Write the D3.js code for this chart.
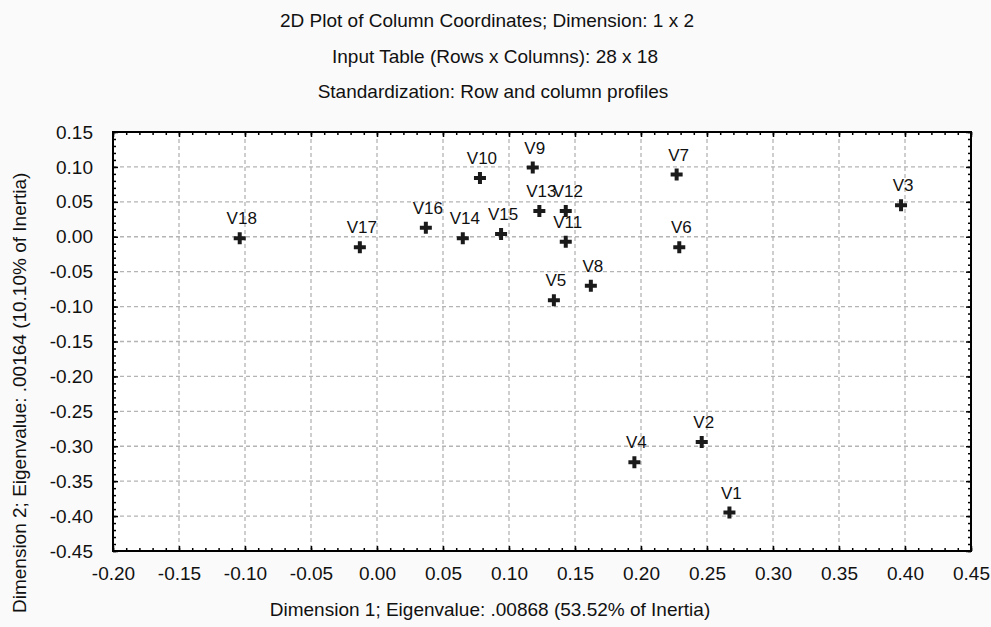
<!DOCTYPE html>
<html>
<head>
<meta charset="utf-8">
<script src="https://cdnjs.cloudflare.com/ajax/libs/d3/7.8.5/d3.min.js"></script>
<style>
  body { margin: 0; background: #fafafa; }
  svg { display: block; font-family: "Liberation Sans", Arial, sans-serif; }
</style>
</head>
<body>
<div id="chart"></div>
<script>
// column points (V1..V18)
var names = ["V1","V2","V3","V4","V5","V6","V7","V8","V9","V10","V11","V12","V13","V14","V15","V16","V17","V18"];
var dim1 = [0.267, 0.246, 0.397, 0.195, 0.134, 0.229, 0.227, 0.162, 0.118, 0.078, 0.143, 0.143, 0.123, 0.065, 0.094, 0.037, -0.013, -0.104];
var dim2 = [-0.395, -0.294, 0.045, -0.323, -0.091, -0.015, 0.089, -0.070, 0.099, 0.084, -0.007, 0.037, 0.037, -0.002, 0.004, 0.013, -0.015, -0.002];

var xTicks = [-0.20,-0.15,-0.10,-0.05,0.00,0.05,0.10,0.15,0.20,0.25,0.30,0.35,0.40,0.45];
var yTicks = [-0.45,-0.40,-0.35,-0.30,-0.25,-0.20,-0.15,-0.10,-0.05,0.00,0.05,0.10,0.15];

var titles = ["2D Plot of Column Coordinates; Dimension: 1 x 2",
              "Input Table (Rows x Columns): 28 x 18",
              "Standardization: Row and column profiles"];
var xTitle = "Dimension 1; Eigenvalue: .00868 (53.52% of Inertia)";
var yTitle = "Dimension 2; Eigenvalue: .00164 (10.10% of Inertia)";

var W = 991, H = 627,
    margin = {top: 132, right: 20, bottom: 76, left: 113},
    width = W - margin.left - margin.right,
    height = H - margin.top - margin.bottom;

var svg = d3.select("#chart").append("svg")
    .attr("width", W)
    .attr("height", H);

// titles
var titleX = [487, 495, 493], titleY = [27, 63, 98];
svg.selectAll(".title")
    .data(titles)
    .enter().append("text")
    .attr("class", "title")
    .attr("x", function(d, i) { return titleX[i]; })
    .attr("y", function(d, i) { return titleY[i]; })
    .attr("text-anchor", "middle")
    .style("font-size", "19px")
    .style("fill", "#111")
    .text(function(d) { return d; });

var g = svg.append("g")
    .attr("transform", "translate(" + margin.left + "," + margin.top + ")");

var x = d3.scaleLinear().domain([-0.20, 0.45]).range([0, width]);
var y = d3.scaleLinear().domain([-0.45, 0.15]).range([height, 0]);

g.append("rect")
    .attr("width", width)
    .attr("height", height)
    .style("fill", "#fff");

// grid
g.selectAll(".gx")
    .data(xTicks.slice(1, -1))
    .enter().append("line")
    .attr("x1", function(d) { return x(d); })
    .attr("x2", function(d) { return x(d); })
    .attr("y1", 0).attr("y2", height)
    .style("stroke", "#b4b4b4").style("stroke-width", 1.3).style("stroke-dasharray", "4,3");
g.selectAll(".gy")
    .data(yTicks.slice(1, -1))
    .enter().append("line")
    .attr("y1", function(d) { return y(d); })
    .attr("y2", function(d) { return y(d); })
    .attr("x1", 0).attr("x2", width)
    .style("stroke", "#b4b4b4").style("stroke-width", 1.3).style("stroke-dasharray", "4,3");

// minor + major ticks, pointing inward on all four sides
var xMinor = d3.range(0, 66).map(function(i) { return -0.20 + i * 0.01; });
var yMinor = d3.range(0, 61).map(function(i) { return -0.45 + i * 0.01; });

function tickAxis(axis, len) {
    return axis.tickSize(-len).tickFormat("");
}
var tickGroups = [
    {axis: d3.axisBottom(x), vals: xMinor, len: 3, t: "translate(0," + height + ")"},
    {axis: d3.axisBottom(x), vals: xTicks, len: 5, t: "translate(0," + height + ")"},
    {axis: d3.axisTop(x), vals: xMinor, len: 3, t: ""},
    {axis: d3.axisTop(x), vals: xTicks, len: 5, t: ""},
    {axis: d3.axisLeft(y), vals: yMinor, len: 3, t: ""},
    {axis: d3.axisLeft(y), vals: yTicks, len: 5, t: ""},
    {axis: d3.axisRight(y), vals: yMinor, len: 3, t: "translate(" + width + ",0)"},
    {axis: d3.axisRight(y), vals: yTicks, len: 5, t: "translate(" + width + ",0)"}
];
tickGroups.forEach(function(tg) {
    var a = g.append("g")
        .attr("transform", tg.t)
        .call(tickAxis(tg.axis.tickValues(tg.vals), tg.len));
    a.select(".domain").remove();
    a.selectAll("line").style("stroke", "#000").style("stroke-width", 1.5);
});

// tick labels
var fmt = function(d) { return (Math.abs(d) < 1e-9 ? 0 : d).toFixed(2); };
var xl = g.append("g")
    .attr("transform", "translate(0," + height + ")")
    .call(d3.axisBottom(x).tickValues(xTicks).tickSize(0).tickPadding(16).tickFormat(fmt));
var yl = g.append("g")
    .call(d3.axisLeft(y).tickValues(yTicks).tickSize(0).tickPadding(20).tickFormat(fmt));
[xl, yl].forEach(function(a) {
    a.select(".domain").remove();
    a.selectAll("text")
        .style("font-size", "19px")
        .style("font-family", "'Liberation Sans', Arial, sans-serif")
        .style("fill", "#111");
});

// frame
g.append("rect")
    .attr("width", width)
    .attr("height", height)
    .style("fill", "none")
    .style("stroke", "#000")
    .style("stroke-width", 2);

// points
var pts = names.map(function(n, i) { return {name: n, d1: dim1[i], d2: dim2[i]}; });

g.selectAll(".pt")
    .data(pts)
    .enter().append("path")
    .attr("class", "pt")
    .attr("transform", function(d) { return "translate(" + x(d.d1) + "," + y(d.d2) + ")"; })
    .attr("d", d3.symbol().type(d3.symbolCross).size(80))
    .style("fill", "#1a1a1a");

g.selectAll(".lbl")
    .data(pts)
    .enter().append("text")
    .attr("class", "lbl")
    .attr("x", function(d) { return x(d.d1) + 2; })
    .attr("y", function(d) { return y(d.d2) - 14; })
    .attr("text-anchor", "middle")
    .style("font-size", "17px")
    .style("fill", "#111")
    .text(function(d) { return d.name; });

// axis titles
svg.append("text")
    .attr("x", 490)
    .attr("y", 616)
    .attr("text-anchor", "middle")
    .style("font-size", "19px")
    .style("fill", "#111")
    .text(xTitle);

svg.append("text")
    .attr("transform", "translate(26,613) rotate(-90)")
    .attr("text-anchor", "start")
    .style("font-size", "19px")
    .style("fill", "#111")
    .text(yTitle);
</script>
</body>
</html>
